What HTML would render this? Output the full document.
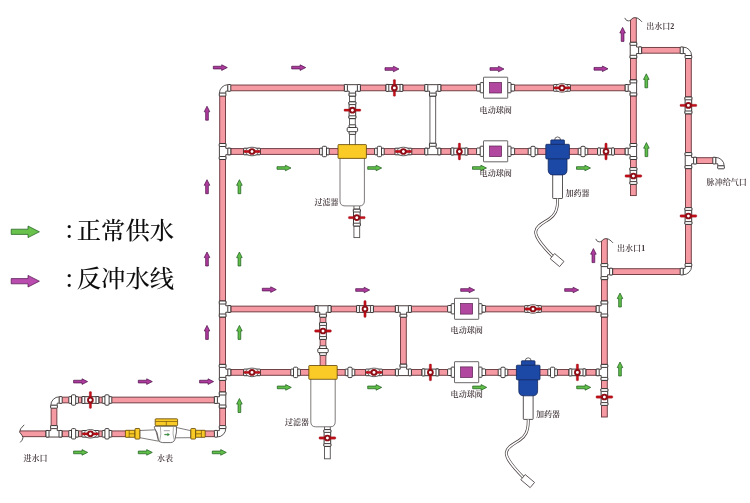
<!DOCTYPE html>
<html lang="zh-CN">
<head>
<meta charset="utf-8">
<title>水处理系统流程图</title>
<style>
html,body{margin:0;padding:0;background:#fff;}
body{width:750px;height:503px;overflow:hidden;}
svg{display:block;}
.lb{font-family:"Liberation Serif","Noto Serif CJK SC",serif;font-weight:600;fill:#43363a;}
.lg{font-family:"Liberation Serif","Noto Serif CJK SC",serif;font-size:24.4px;font-weight:500;fill:#111;}
</style>
</head>
<body>
<svg width="750" height="503" viewBox="0 0 750 503">
<defs><filter id="soft" x="0" y="0" width="750" height="503" filterUnits="userSpaceOnUse"><feGaussianBlur stdDeviation="0.35"/></filter></defs>
<g filter="url(#soft)">
<rect width="750" height="503" fill="#fff"/>
<rect x="16" y="430.93" width="112" height="5.75" fill="#F59AA3" stroke="#643338" stroke-width="0.9"/>
<rect x="202" y="430.93" width="20.6" height="5.75" fill="#F59AA3" stroke="#643338" stroke-width="0.9"/>
<rect x="54" y="397.12" width="168.6" height="5.75" fill="#F59AA3" stroke="#643338" stroke-width="0.9"/>
<rect x="51.12" y="400" width="5.75" height="33.8" fill="#F59AA3" stroke="#643338" stroke-width="0.9"/>
<rect x="219.72" y="87.9" width="5.75" height="345.9" fill="#F59AA3" stroke="#643338" stroke-width="0.9"/>
<rect x="222.6" y="85.03" width="410.8" height="5.75" fill="#F59AA3" stroke="#643338" stroke-width="0.9"/>
<rect x="222.6" y="148.62" width="410.8" height="5.75" fill="#F59AA3" stroke="#643338" stroke-width="0.9"/>
<rect x="222.6" y="306.12" width="381.8" height="5.75" fill="#F59AA3" stroke="#643338" stroke-width="0.9"/>
<rect x="222.6" y="369.52" width="381.8" height="5.75" fill="#F59AA3" stroke="#643338" stroke-width="0.9"/>
<rect x="630.52" y="15" width="5.75" height="180.6" fill="#F59AA3" stroke="#643338" stroke-width="0.9"/>
<rect x="601.52" y="236" width="5.75" height="181" fill="#F59AA3" stroke="#643338" stroke-width="0.9"/>
<rect x="633.4" y="47.42" width="55" height="5.75" fill="#F59AA3" stroke="#643338" stroke-width="0.9"/>
<rect x="685.52" y="50.3" width="5.75" height="221.3" fill="#F59AA3" stroke="#643338" stroke-width="0.9"/>
<rect x="604.4" y="268.73" width="84" height="5.75" fill="#F59AA3" stroke="#643338" stroke-width="0.9"/>
<rect x="688.4" y="157.72" width="30.6" height="5.75" fill="#F59AA3" stroke="#643338" stroke-width="0.9"/>
<rect x="349.52" y="87.9" width="5.75" height="58.1" fill="#fff" stroke="#555050" stroke-width="0.9"/>
<rect x="429.93" y="87.9" width="5.75" height="63.6" fill="#fff" stroke="#555050" stroke-width="0.9"/>
<rect x="320.12" y="309" width="5.75" height="58" fill="#F59AA3" stroke="#643338" stroke-width="0.9"/>
<rect x="400.52" y="309" width="5.75" height="63.4" fill="#F59AA3" stroke="#643338" stroke-width="0.9"/>
<rect x="353.93" y="205" width="5.75" height="32.6" fill="#fff" stroke="#555050" stroke-width="0.9"/>
<rect x="324.52" y="426" width="5.75" height="32.8" fill="#fff" stroke="#555050" stroke-width="0.9"/>
<path d="M24.2 424.8 Q19.4 429 19.6 432.2 Q22.6 435.4 23 437.6 Q22.6 440.4 20.2 442.4 H14 V424.8 Z" fill="#fff"/>
<path d="M24.2 424.8 Q19.4 429 19.6 432.2 Q22.6 435.4 23 437.6 Q22.6 440.4 20.2 442.4" fill="none" stroke="#2e2828" stroke-width="0.8"/>
<g transform="translate(633.4 18.3)">
<path d="M-8.7 -0.4 Q-7.2 2.8 -5.1 2.6 Q-3.6 2.5 -2.7 1.7 Q-0.5 -0.9 1.5 -0.7 Q4 -0.6 5.6 0.8 Q7.4 2.2 8.6 3.6 V-6 H-8.7 Z" fill="#fff"/>
<path d="M-8.7 -0.4 Q-7.2 2.8 -5.1 2.6 Q-3.6 2.5 -2.7 1.7 Q-0.5 -0.9 1.5 -0.7 Q4 -0.6 5.6 0.8 Q7.4 2.2 8.6 3.6" fill="none" stroke="#2e2828" stroke-width="0.8"/>
</g>
<g transform="translate(604.4 239.3)">
<path d="M-8.7 -0.4 Q-7.2 2.8 -5.1 2.6 Q-3.6 2.5 -2.7 1.7 Q-0.5 -0.9 1.5 -0.7 Q4 -0.6 5.6 0.8 Q7.4 2.2 8.6 3.6 V-6 H-8.7 Z" fill="#fff"/>
<path d="M-8.7 -0.4 Q-7.2 2.8 -5.1 2.6 Q-3.6 2.5 -2.7 1.7 Q-0.5 -0.9 1.5 -0.7 Q4 -0.6 5.6 0.8 Q7.4 2.2 8.6 3.6" fill="none" stroke="#2e2828" stroke-width="0.8"/>
</g>
<g transform="translate(54 400) rotate(0)">
<rect x="-4.4" y="-4.4" width="9.8" height="9.8" fill="#fff"/>
<path d="M5.4 -3.2 A8.6 8.6 0 0 0 -3.2 5.4 H3.2 V3.2 H5.4 Z" fill="#fff" stroke="#2e2828" stroke-width="0.8"/>
<rect x="5.2" y="-3.35" width="3" height="6.7" fill="#fff" stroke="#2e2828" stroke-width="0.9" rx="0.8"/>
<rect x="-3.35" y="5.2" width="6.7" height="3" fill="#fff" stroke="#2e2828" stroke-width="0.9" rx="0.8"/>
</g>
<g transform="translate(54 433.8) rotate(0)">
<path d="M-8 -3.2 H-3.2 V-8.2 H3.2 V-3.2 H8 V3.2 H-8 Z" fill="#fff" stroke="#2e2828" stroke-width="0.8"/>
<rect x="-8" y="-3.35" width="3" height="6.7" fill="#fff" stroke="#2e2828" stroke-width="0.9" rx="0.8"/>
<rect x="5" y="-3.35" width="3" height="6.7" fill="#fff" stroke="#2e2828" stroke-width="0.9" rx="0.8"/>
<rect x="-3.35" y="-8.2" width="6.7" height="3" fill="#fff" stroke="#2e2828" stroke-width="0.9" rx="0.8"/>
</g>
<g transform="translate(73.6 400)">
<rect x="-4.8" y="-3.3" width="9.6" height="6.6" fill="#fff" stroke="#2e2828" stroke-width="0.9" rx="0.6"/>
<rect x="-2.1" y="-5.2" width="4.2" height="10.4" fill="#fff" stroke="#2e2828" stroke-width="0.9" rx="1.1"/>
</g>
<g transform="translate(107 400)">
<rect x="-4.8" y="-3.3" width="9.6" height="6.6" fill="#fff" stroke="#2e2828" stroke-width="0.9" rx="0.6"/>
<rect x="-2.1" y="-5.2" width="4.2" height="10.4" fill="#fff" stroke="#2e2828" stroke-width="0.9" rx="1.1"/>
</g>
<g transform="translate(73.6 433.8)">
<rect x="-4.8" y="-3.3" width="9.6" height="6.6" fill="#fff" stroke="#2e2828" stroke-width="0.9" rx="0.6"/>
<rect x="-2.1" y="-5.2" width="4.2" height="10.4" fill="#fff" stroke="#2e2828" stroke-width="0.9" rx="1.1"/>
</g>
<g transform="translate(107 433.8)">
<rect x="-4.8" y="-3.3" width="9.6" height="6.6" fill="#fff" stroke="#2e2828" stroke-width="0.9" rx="0.6"/>
<rect x="-2.1" y="-5.2" width="4.2" height="10.4" fill="#fff" stroke="#2e2828" stroke-width="0.9" rx="1.1"/>
</g>
<g transform="translate(90.4 400)">
<rect x="-8.4" y="-3.3" width="16.8" height="6.6" fill="#fff" stroke="#2e2828" stroke-width="0.9" rx="0.6"/>
<rect x="-8.4" y="-3.5" width="2.8" height="7" fill="#fff" stroke="#2e2828" stroke-width="0.9" rx="0.6"/>
<rect x="5.6" y="-3.5" width="2.8" height="7" fill="#fff" stroke="#2e2828" stroke-width="0.9" rx="0.6"/>
<rect x="-1.15" y="-8.4" width="2.3" height="16.8" rx="0.8" fill="#C60F1B" stroke="#7d0a10" stroke-width="0.3"/>
<circle cx="0" cy="0" r="2.4" fill="#fff" stroke="#8f0b14" stroke-width="1.9"/>
</g>
<g transform="translate(90.4 433.8)">
<rect x="-8.4" y="-3.3" width="16.8" height="6.6" fill="#fff" stroke="#2e2828" stroke-width="0.9" rx="0.6"/>
<ellipse cx="0" cy="0" rx="6.6" ry="4.3" fill="#f4f4f4" stroke="#2e2828" stroke-width="0.7"/>
<rect x="-8.2" y="-1.15" width="16.4" height="2.3" rx="0.8" fill="#C60F1B" stroke="#7d0a10" stroke-width="0.3"/>
<circle cx="0" cy="0" r="2.4" fill="#fff" stroke="#8f0b14" stroke-width="1.9"/>
</g>
<g transform="translate(222.6 400) rotate(270)">
<path d="M-8 -3.2 H-3.2 V-8.2 H3.2 V-3.2 H8 V3.2 H-8 Z" fill="#fff" stroke="#2e2828" stroke-width="0.8"/>
<rect x="-8" y="-3.35" width="3" height="6.7" fill="#fff" stroke="#2e2828" stroke-width="0.9" rx="0.8"/>
<rect x="5" y="-3.35" width="3" height="6.7" fill="#fff" stroke="#2e2828" stroke-width="0.9" rx="0.8"/>
<rect x="-3.35" y="-8.2" width="6.7" height="3" fill="#fff" stroke="#2e2828" stroke-width="0.9" rx="0.8"/>
</g>
<g transform="translate(222.6 433.8) rotate(180)">
<rect x="-4.4" y="-4.4" width="9.8" height="9.8" fill="#fff"/>
<path d="M5.4 -3.2 A8.6 8.6 0 0 0 -3.2 5.4 H3.2 V3.2 H5.4 Z" fill="#fff" stroke="#2e2828" stroke-width="0.8"/>
<rect x="5.2" y="-3.35" width="3" height="6.7" fill="#fff" stroke="#2e2828" stroke-width="0.9" rx="0.8"/>
<rect x="-3.35" y="5.2" width="6.7" height="3" fill="#fff" stroke="#2e2828" stroke-width="0.9" rx="0.8"/>
</g>
<path d="M139.8 430.5 L155.6 429.8 L158.6 441.2 L139.8 437.7 Z" fill="#fff" stroke="#4a4444" stroke-width="0.7"/>
<path d="M190.8 430.7 L176.4 427.5 L175.2 437.8 L190.8 437.7 Z" fill="#fff" stroke="#4a4444" stroke-width="0.7"/>
<path d="M154.4 427.9 Q153.6 426.2 156 426.2 H176.4 Q177 432 175.4 437.4 Q174.6 442.6 170.6 442.6 H162.6 Q158.8 442.6 158.4 439.4 Q157.8 432 154.4 427.9 Z" fill="#fff" stroke="#4a4444" stroke-width="0.8"/>
<path d="M160.4 427 Q161.6 434 159.8 440.6 M173.4 427 Q172.4 434 174 439.6" fill="none" stroke="#777" stroke-width="0.6"/>
<rect x="163.8" y="430.2" width="6" height="1" fill="#a8a0a8"/>
<path d="M164.6 434.2 h3 v-0.9 l2 1.3 l-2 1.3 v-0.9 h-3 z" fill="#2f9a3c" stroke="#1b5a1b" stroke-width="0.3"/>
<rect x="155.2" y="418.8" width="22.4" height="6.9" fill="#FACA25" stroke="#5e4208" stroke-width="0.8" rx="0.8"/>
<path d="M155.6 421.5 H177.2 M166.3 421.5 V425.6" fill="none" stroke="#5e4208" stroke-width="0.6"/>
<g transform="translate(132.6 433.8)">
<rect x="-7.2" y="-3.5" width="9.6" height="7" fill="#FACA25" stroke="#5e4208" stroke-width="0.8" rx="0.5"/>
<path d="M-3.4 -3.5 V3.5 M-3.4 0 H2.4" fill="none" stroke="#5e4208" stroke-width="0.6"/>
<rect x="2.4" y="-5.3" width="4.8" height="10.6" fill="#FACA25" stroke="#5e4208" stroke-width="0.8" rx="0.7"/>
</g>
<g transform="translate(198 433.8) scale(-1 1)">
<rect x="-7.2" y="-3.5" width="9.6" height="7" fill="#FACA25" stroke="#5e4208" stroke-width="0.8" rx="0.5"/>
<path d="M-3.4 -3.5 V3.5 M-3.4 0 H2.4" fill="none" stroke="#5e4208" stroke-width="0.6"/>
<rect x="2.4" y="-5.3" width="4.8" height="10.6" fill="#FACA25" stroke="#5e4208" stroke-width="0.8" rx="0.7"/>
</g>
<g transform="translate(222.6 87.9) rotate(0)">
<rect x="-4.4" y="-4.4" width="9.8" height="9.8" fill="#fff"/>
<path d="M5.4 -3.2 A8.6 8.6 0 0 0 -3.2 5.4 H3.2 V3.2 H5.4 Z" fill="#fff" stroke="#2e2828" stroke-width="0.8"/>
<rect x="5.2" y="-3.35" width="3" height="6.7" fill="#fff" stroke="#2e2828" stroke-width="0.9" rx="0.8"/>
<rect x="-3.35" y="5.2" width="6.7" height="3" fill="#fff" stroke="#2e2828" stroke-width="0.9" rx="0.8"/>
</g>
<g transform="translate(222.6 151.5) rotate(90)">
<path d="M-8 -3.2 H-3.2 V-8.2 H3.2 V-3.2 H8 V3.2 H-8 Z" fill="#fff" stroke="#2e2828" stroke-width="0.8"/>
<rect x="-8" y="-3.35" width="3" height="6.7" fill="#fff" stroke="#2e2828" stroke-width="0.9" rx="0.8"/>
<rect x="5" y="-3.35" width="3" height="6.7" fill="#fff" stroke="#2e2828" stroke-width="0.9" rx="0.8"/>
<rect x="-3.35" y="-8.2" width="6.7" height="3" fill="#fff" stroke="#2e2828" stroke-width="0.9" rx="0.8"/>
</g>
<g transform="translate(222.6 309) rotate(90)">
<path d="M-8 -3.2 H-3.2 V-8.2 H3.2 V-3.2 H8 V3.2 H-8 Z" fill="#fff" stroke="#2e2828" stroke-width="0.8"/>
<rect x="-8" y="-3.35" width="3" height="6.7" fill="#fff" stroke="#2e2828" stroke-width="0.9" rx="0.8"/>
<rect x="5" y="-3.35" width="3" height="6.7" fill="#fff" stroke="#2e2828" stroke-width="0.9" rx="0.8"/>
<rect x="-3.35" y="-8.2" width="6.7" height="3" fill="#fff" stroke="#2e2828" stroke-width="0.9" rx="0.8"/>
</g>
<g transform="translate(222.6 372.4) rotate(90)">
<path d="M-8 -3.2 H-3.2 V-8.2 H3.2 V-3.2 H8 V3.2 H-8 Z" fill="#fff" stroke="#2e2828" stroke-width="0.8"/>
<rect x="-8" y="-3.35" width="3" height="6.7" fill="#fff" stroke="#2e2828" stroke-width="0.9" rx="0.8"/>
<rect x="5" y="-3.35" width="3" height="6.7" fill="#fff" stroke="#2e2828" stroke-width="0.9" rx="0.8"/>
<rect x="-3.35" y="-8.2" width="6.7" height="3" fill="#fff" stroke="#2e2828" stroke-width="0.9" rx="0.8"/>
</g>
<g transform="translate(352.4 87.9) rotate(180)">
<path d="M-8 -3.2 H-3.2 V-8.2 H3.2 V-3.2 H8 V3.2 H-8 Z" fill="#fff" stroke="#2e2828" stroke-width="0.8"/>
<rect x="-8" y="-3.35" width="3" height="6.7" fill="#fff" stroke="#2e2828" stroke-width="0.9" rx="0.8"/>
<rect x="5" y="-3.35" width="3" height="6.7" fill="#fff" stroke="#2e2828" stroke-width="0.9" rx="0.8"/>
<rect x="-3.35" y="-8.2" width="6.7" height="3" fill="#fff" stroke="#2e2828" stroke-width="0.9" rx="0.8"/>
</g>
<g transform="translate(352.4 110.2) rotate(90)">
<rect x="-8.4" y="-3.3" width="16.8" height="6.6" fill="#fff" stroke="#2e2828" stroke-width="0.9" rx="0.6"/>
<rect x="-8.4" y="-3.5" width="2.8" height="7" fill="#fff" stroke="#2e2828" stroke-width="0.9" rx="0.6"/>
<rect x="5.6" y="-3.5" width="2.8" height="7" fill="#fff" stroke="#2e2828" stroke-width="0.9" rx="0.6"/>
<rect x="-1.15" y="-8.4" width="2.3" height="16.8" rx="0.8" fill="#C60F1B" stroke="#7d0a10" stroke-width="0.3"/>
<circle cx="0" cy="0" r="2.4" fill="#fff" stroke="#8f0b14" stroke-width="1.9"/>
</g>
<g transform="translate(352.4 129.6) rotate(90)">
<rect x="-4.8" y="-3.3" width="9.6" height="6.6" fill="#fff" stroke="#2e2828" stroke-width="0.9" rx="0.6"/>
<rect x="-2.1" y="-5.2" width="4.2" height="10.4" fill="#fff" stroke="#2e2828" stroke-width="0.9" rx="1.1"/>
</g>
<g transform="translate(394.4 87.9)">
<rect x="-8.4" y="-3.3" width="16.8" height="6.6" fill="#fff" stroke="#2e2828" stroke-width="0.9" rx="0.6"/>
<rect x="-8.4" y="-3.5" width="2.8" height="7" fill="#fff" stroke="#2e2828" stroke-width="0.9" rx="0.6"/>
<rect x="5.6" y="-3.5" width="2.8" height="7" fill="#fff" stroke="#2e2828" stroke-width="0.9" rx="0.6"/>
<rect x="-1.15" y="-8.4" width="2.3" height="16.8" rx="0.8" fill="#C60F1B" stroke="#7d0a10" stroke-width="0.3"/>
<circle cx="0" cy="0" r="2.4" fill="#fff" stroke="#8f0b14" stroke-width="1.9"/>
</g>
<g transform="translate(432.8 87.9) rotate(180)">
<path d="M-8 -3.2 H-3.2 V-8.2 H3.2 V-3.2 H8 V3.2 H-8 Z" fill="#fff" stroke="#2e2828" stroke-width="0.8"/>
<rect x="-8" y="-3.35" width="3" height="6.7" fill="#fff" stroke="#2e2828" stroke-width="0.9" rx="0.8"/>
<rect x="5" y="-3.35" width="3" height="6.7" fill="#fff" stroke="#2e2828" stroke-width="0.9" rx="0.8"/>
<rect x="-3.35" y="-8.2" width="6.7" height="3" fill="#fff" stroke="#2e2828" stroke-width="0.9" rx="0.8"/>
</g>
<rect x="476.6" y="84.4" width="5" height="6.6" fill="#fff" stroke="#2e2828" stroke-width="0.9" rx="0.8"/>
<rect x="509.6" y="84.4" width="5" height="6.6" fill="#fff" stroke="#2e2828" stroke-width="0.9" rx="0.8"/>
<rect x="480.2" y="82.6" width="3.4" height="10.2" fill="#fff" stroke="#2e2828" stroke-width="0.9" rx="0.6"/>
<rect x="507.6" y="82.6" width="3.4" height="10.2" fill="#fff" stroke="#2e2828" stroke-width="0.9" rx="0.6"/>
<rect x="483.5" y="77.2" width="24.2" height="21" fill="#fff" stroke="#444040" stroke-width="0.8" rx="0.4"/>
<rect x="489.6" y="82.4" width="12" height="10.6" fill="#B2479F" stroke="#5a2050" stroke-width="0.7"/>
<g transform="translate(562 87.9)">
<rect x="-8.4" y="-3.3" width="16.8" height="6.6" fill="#fff" stroke="#2e2828" stroke-width="0.9" rx="0.6"/>
<ellipse cx="0" cy="0" rx="6.6" ry="4.3" fill="#f4f4f4" stroke="#2e2828" stroke-width="0.7"/>
<rect x="-8.2" y="-1.15" width="16.4" height="2.3" rx="0.8" fill="#C60F1B" stroke="#7d0a10" stroke-width="0.3"/>
<circle cx="0" cy="0" r="2.4" fill="#fff" stroke="#8f0b14" stroke-width="1.9"/>
</g>
<g transform="translate(633.4 87.9) rotate(270)">
<path d="M-8 -3.2 H-3.2 V-8.2 H3.2 V-3.2 H8 V3.2 H-8 Z" fill="#fff" stroke="#2e2828" stroke-width="0.8"/>
<rect x="-8" y="-3.35" width="3" height="6.7" fill="#fff" stroke="#2e2828" stroke-width="0.9" rx="0.8"/>
<rect x="5" y="-3.35" width="3" height="6.7" fill="#fff" stroke="#2e2828" stroke-width="0.9" rx="0.8"/>
<rect x="-3.35" y="-8.2" width="6.7" height="3" fill="#fff" stroke="#2e2828" stroke-width="0.9" rx="0.8"/>
</g>
<g transform="translate(252 151.5)">
<rect x="-8.4" y="-3.3" width="16.8" height="6.6" fill="#fff" stroke="#2e2828" stroke-width="0.9" rx="0.6"/>
<ellipse cx="0" cy="0" rx="6.6" ry="4.3" fill="#f4f4f4" stroke="#2e2828" stroke-width="0.7"/>
<rect x="-8.2" y="-1.15" width="16.4" height="2.3" rx="0.8" fill="#C60F1B" stroke="#7d0a10" stroke-width="0.3"/>
<circle cx="0" cy="0" r="2.4" fill="#fff" stroke="#8f0b14" stroke-width="1.9"/>
</g>
<g transform="translate(324.4 151.5)">
<rect x="-4.8" y="-3.3" width="9.6" height="6.6" fill="#fff" stroke="#2e2828" stroke-width="0.9" rx="0.6"/>
<rect x="-2.1" y="-5.2" width="4.2" height="10.4" fill="#fff" stroke="#2e2828" stroke-width="0.9" rx="1.1"/>
</g>
<path d="M340 157.5 V200.9 Q340 205.9 345 205.9 H359.4 Q364.4 205.9 364.4 200.9 V157.5 Z" fill="#fff" stroke="#5e5858" stroke-width="0.8"/>
<rect x="338" y="144.6" width="28.4" height="13.8" fill="#FACA25" stroke="#5e4208" stroke-width="0.8" rx="0.6"/>
<g transform="translate(356.8 217.6) rotate(90)">
<rect x="-8.4" y="-3.3" width="16.8" height="6.6" fill="#fff" stroke="#2e2828" stroke-width="0.9" rx="0.6"/>
<rect x="-8.4" y="-3.5" width="2.8" height="7" fill="#fff" stroke="#2e2828" stroke-width="0.9" rx="0.6"/>
<rect x="5.6" y="-3.5" width="2.8" height="7" fill="#fff" stroke="#2e2828" stroke-width="0.9" rx="0.6"/>
<rect x="-1.15" y="-8.4" width="2.3" height="16.8" rx="0.8" fill="#C60F1B" stroke="#7d0a10" stroke-width="0.3"/>
<circle cx="0" cy="0" r="2.4" fill="#fff" stroke="#8f0b14" stroke-width="1.9"/>
</g>
<g transform="translate(379.4 151.5)">
<rect x="-4.8" y="-3.3" width="9.6" height="6.6" fill="#fff" stroke="#2e2828" stroke-width="0.9" rx="0.6"/>
<rect x="-2.1" y="-5.2" width="4.2" height="10.4" fill="#fff" stroke="#2e2828" stroke-width="0.9" rx="1.1"/>
</g>
<g transform="translate(403.4 151.5)">
<rect x="-8.4" y="-3.3" width="16.8" height="6.6" fill="#fff" stroke="#2e2828" stroke-width="0.9" rx="0.6"/>
<ellipse cx="0" cy="0" rx="6.6" ry="4.3" fill="#f4f4f4" stroke="#2e2828" stroke-width="0.7"/>
<rect x="-8.2" y="-1.15" width="16.4" height="2.3" rx="0.8" fill="#C60F1B" stroke="#7d0a10" stroke-width="0.3"/>
<circle cx="0" cy="0" r="2.4" fill="#fff" stroke="#8f0b14" stroke-width="1.9"/>
</g>
<g transform="translate(432.8 151.5) rotate(0)">
<path d="M-8 -3.2 H-3.2 V-8.2 H3.2 V-3.2 H8 V3.2 H-8 Z" fill="#fff" stroke="#2e2828" stroke-width="0.8"/>
<rect x="-8" y="-3.35" width="3" height="6.7" fill="#fff" stroke="#2e2828" stroke-width="0.9" rx="0.8"/>
<rect x="5" y="-3.35" width="3" height="6.7" fill="#fff" stroke="#2e2828" stroke-width="0.9" rx="0.8"/>
<rect x="-3.35" y="-8.2" width="6.7" height="3" fill="#fff" stroke="#2e2828" stroke-width="0.9" rx="0.8"/>
</g>
<g transform="translate(459.4 151.5)">
<rect x="-8.4" y="-3.3" width="16.8" height="6.6" fill="#fff" stroke="#2e2828" stroke-width="0.9" rx="0.6"/>
<rect x="-8.4" y="-3.5" width="2.8" height="7" fill="#fff" stroke="#2e2828" stroke-width="0.9" rx="0.6"/>
<rect x="5.6" y="-3.5" width="2.8" height="7" fill="#fff" stroke="#2e2828" stroke-width="0.9" rx="0.6"/>
<rect x="-1.15" y="-8.4" width="2.3" height="16.8" rx="0.8" fill="#C60F1B" stroke="#7d0a10" stroke-width="0.3"/>
<circle cx="0" cy="0" r="2.4" fill="#fff" stroke="#8f0b14" stroke-width="1.9"/>
</g>
<rect x="476.6" y="148" width="5" height="6.6" fill="#fff" stroke="#2e2828" stroke-width="0.9" rx="0.8"/>
<rect x="509.6" y="148" width="5" height="6.6" fill="#fff" stroke="#2e2828" stroke-width="0.9" rx="0.8"/>
<rect x="480.2" y="146.2" width="3.4" height="10.2" fill="#fff" stroke="#2e2828" stroke-width="0.9" rx="0.6"/>
<rect x="507.6" y="146.2" width="3.4" height="10.2" fill="#fff" stroke="#2e2828" stroke-width="0.9" rx="0.6"/>
<rect x="483.5" y="140.8" width="24.2" height="21" fill="#fff" stroke="#444040" stroke-width="0.8" rx="0.4"/>
<rect x="489.6" y="146" width="12" height="10.6" fill="#B2479F" stroke="#5a2050" stroke-width="0.7"/>
<g transform="translate(533 151.5)">
<rect x="-4.8" y="-3.3" width="9.6" height="6.6" fill="#fff" stroke="#2e2828" stroke-width="0.9" rx="0.6"/>
<rect x="-2.1" y="-5.2" width="4.2" height="10.4" fill="#fff" stroke="#2e2828" stroke-width="0.9" rx="1.1"/>
</g>
<path d="M554.6 140.3 a3 3.4 0 0 1 6 0 Z" fill="#fff" stroke="#2e2828" stroke-width="0.7"/>
<rect x="552.7" y="173.5" width="9.8" height="25" fill="#fff" stroke="#2e2828" stroke-width="0.8" rx="0.6"/>
<path d="M548.2 157.5 V169.9 Q548.2 174.9 553.2 174.9 H562 Q567 174.9 567 169.9 V157.5 Z" fill="#1E49A6" stroke="#12265c" stroke-width="0.8"/>
<rect x="550.8" y="139.9" width="13.6" height="5" fill="#1E49A6" stroke="#12265c" stroke-width="0.8" rx="0.6"/>
<rect x="545.8" y="144.3" width="23.6" height="14.6" fill="#1E49A6" stroke="#12265c" stroke-width="0.8" rx="0.8"/>
<g transform="translate(583 151.5)">
<rect x="-4.8" y="-3.3" width="9.6" height="6.6" fill="#fff" stroke="#2e2828" stroke-width="0.9" rx="0.6"/>
<rect x="-2.1" y="-5.2" width="4.2" height="10.4" fill="#fff" stroke="#2e2828" stroke-width="0.9" rx="1.1"/>
</g>
<g transform="translate(606 151.5)">
<rect x="-8.4" y="-3.3" width="16.8" height="6.6" fill="#fff" stroke="#2e2828" stroke-width="0.9" rx="0.6"/>
<rect x="-8.4" y="-3.5" width="2.8" height="7" fill="#fff" stroke="#2e2828" stroke-width="0.9" rx="0.6"/>
<rect x="5.6" y="-3.5" width="2.8" height="7" fill="#fff" stroke="#2e2828" stroke-width="0.9" rx="0.6"/>
<rect x="-1.15" y="-8.4" width="2.3" height="16.8" rx="0.8" fill="#C60F1B" stroke="#7d0a10" stroke-width="0.3"/>
<circle cx="0" cy="0" r="2.4" fill="#fff" stroke="#8f0b14" stroke-width="1.9"/>
</g>
<g transform="translate(633.4 151.5) rotate(270)">
<path d="M-8 -3.2 H-3.2 V-8.2 H3.2 V-3.2 H8 V3.2 H-8 Z" fill="#fff" stroke="#2e2828" stroke-width="0.8"/>
<rect x="-8" y="-3.35" width="3" height="6.7" fill="#fff" stroke="#2e2828" stroke-width="0.9" rx="0.8"/>
<rect x="5" y="-3.35" width="3" height="6.7" fill="#fff" stroke="#2e2828" stroke-width="0.9" rx="0.8"/>
<rect x="-3.35" y="-8.2" width="6.7" height="3" fill="#fff" stroke="#2e2828" stroke-width="0.9" rx="0.8"/>
</g>
<g transform="translate(633.4 176) rotate(90)">
<rect x="-8.4" y="-3.3" width="16.8" height="6.6" fill="#fff" stroke="#2e2828" stroke-width="0.9" rx="0.6"/>
<rect x="-8.4" y="-3.5" width="2.8" height="7" fill="#fff" stroke="#2e2828" stroke-width="0.9" rx="0.6"/>
<rect x="5.6" y="-3.5" width="2.8" height="7" fill="#fff" stroke="#2e2828" stroke-width="0.9" rx="0.6"/>
<rect x="-1.15" y="-8.4" width="2.3" height="16.8" rx="0.8" fill="#C60F1B" stroke="#7d0a10" stroke-width="0.3"/>
<circle cx="0" cy="0" r="2.4" fill="#fff" stroke="#8f0b14" stroke-width="1.9"/>
</g>
<path d="M557.6 198.6 C558 211.2 554 215.7 549.2 219 544 222.6 536 225.8 535.7 231.9 535.5 237.2 541 244.2 552.6 256.3" fill="none" stroke="#4a4040" stroke-width="2.9" stroke-linecap="butt"/>
<path d="M557.6 198.6 C558 211.2 554 215.7 549.2 219 544 222.6 536 225.8 535.7 231.9 535.5 237.2 541 244.2 552.6 256.3" fill="none" stroke="#fff" stroke-width="1.5" stroke-linecap="butt"/>
<rect x="-6.1" y="-3.4" width="12.2" height="6.8" fill="#fff" stroke="#4a4040" stroke-width="0.8" transform="translate(557.1 260.1) rotate(40)"/>
<g transform="translate(633.4 50.3) rotate(90)">
<path d="M-8 -3.2 H-3.2 V-8.2 H3.2 V-3.2 H8 V3.2 H-8 Z" fill="#fff" stroke="#2e2828" stroke-width="0.8"/>
<rect x="-8" y="-3.35" width="3" height="6.7" fill="#fff" stroke="#2e2828" stroke-width="0.9" rx="0.8"/>
<rect x="5" y="-3.35" width="3" height="6.7" fill="#fff" stroke="#2e2828" stroke-width="0.9" rx="0.8"/>
<rect x="-3.35" y="-8.2" width="6.7" height="3" fill="#fff" stroke="#2e2828" stroke-width="0.9" rx="0.8"/>
</g>
<g transform="translate(688.4 50.3) rotate(90)">
<rect x="-4.4" y="-4.4" width="9.8" height="9.8" fill="#fff"/>
<path d="M5.4 -3.2 A8.6 8.6 0 0 0 -3.2 5.4 H3.2 V3.2 H5.4 Z" fill="#fff" stroke="#2e2828" stroke-width="0.8"/>
<rect x="5.2" y="-3.35" width="3" height="6.7" fill="#fff" stroke="#2e2828" stroke-width="0.9" rx="0.8"/>
<rect x="-3.35" y="5.2" width="6.7" height="3" fill="#fff" stroke="#2e2828" stroke-width="0.9" rx="0.8"/>
</g>
<g transform="translate(688.4 105.4) rotate(90)">
<rect x="-8.4" y="-3.3" width="16.8" height="6.6" fill="#fff" stroke="#2e2828" stroke-width="0.9" rx="0.6"/>
<rect x="-8.4" y="-3.5" width="2.8" height="7" fill="#fff" stroke="#2e2828" stroke-width="0.9" rx="0.6"/>
<rect x="5.6" y="-3.5" width="2.8" height="7" fill="#fff" stroke="#2e2828" stroke-width="0.9" rx="0.6"/>
<rect x="-1.15" y="-8.4" width="2.3" height="16.8" rx="0.8" fill="#C60F1B" stroke="#7d0a10" stroke-width="0.3"/>
<circle cx="0" cy="0" r="2.4" fill="#fff" stroke="#8f0b14" stroke-width="1.9"/>
</g>
<g transform="translate(688.4 160.6) rotate(90)">
<path d="M-8 -3.2 H-3.2 V-8.2 H3.2 V-3.2 H8 V3.2 H-8 Z" fill="#fff" stroke="#2e2828" stroke-width="0.8"/>
<rect x="-8" y="-3.35" width="3" height="6.7" fill="#fff" stroke="#2e2828" stroke-width="0.9" rx="0.8"/>
<rect x="5" y="-3.35" width="3" height="6.7" fill="#fff" stroke="#2e2828" stroke-width="0.9" rx="0.8"/>
<rect x="-3.35" y="-8.2" width="6.7" height="3" fill="#fff" stroke="#2e2828" stroke-width="0.9" rx="0.8"/>
</g>
<g transform="translate(721 160.6) rotate(90)">
<rect x="-4.4" y="-4.4" width="9.8" height="9.8" fill="#fff"/>
<path d="M5.4 -3.2 A8.6 8.6 0 0 0 -3.2 5.4 H3.2 V3.2 H5.4 Z" fill="#fff" stroke="#2e2828" stroke-width="0.8"/>
<rect x="5.2" y="-3.35" width="3" height="6.7" fill="#fff" stroke="#2e2828" stroke-width="0.9" rx="0.8"/>
<rect x="-3.35" y="5.2" width="6.7" height="3" fill="#fff" stroke="#2e2828" stroke-width="0.9" rx="0.8"/>
</g>
<g transform="translate(688.4 216) rotate(90)">
<rect x="-8.4" y="-3.3" width="16.8" height="6.6" fill="#fff" stroke="#2e2828" stroke-width="0.9" rx="0.6"/>
<rect x="-8.4" y="-3.5" width="2.8" height="7" fill="#fff" stroke="#2e2828" stroke-width="0.9" rx="0.6"/>
<rect x="5.6" y="-3.5" width="2.8" height="7" fill="#fff" stroke="#2e2828" stroke-width="0.9" rx="0.6"/>
<rect x="-1.15" y="-8.4" width="2.3" height="16.8" rx="0.8" fill="#C60F1B" stroke="#7d0a10" stroke-width="0.3"/>
<circle cx="0" cy="0" r="2.4" fill="#fff" stroke="#8f0b14" stroke-width="1.9"/>
</g>
<g transform="translate(688.4 271.6) rotate(180)">
<rect x="-4.4" y="-4.4" width="9.8" height="9.8" fill="#fff"/>
<path d="M5.4 -3.2 A8.6 8.6 0 0 0 -3.2 5.4 H3.2 V3.2 H5.4 Z" fill="#fff" stroke="#2e2828" stroke-width="0.8"/>
<rect x="5.2" y="-3.35" width="3" height="6.7" fill="#fff" stroke="#2e2828" stroke-width="0.9" rx="0.8"/>
<rect x="-3.35" y="5.2" width="6.7" height="3" fill="#fff" stroke="#2e2828" stroke-width="0.9" rx="0.8"/>
</g>
<g transform="translate(604.4 271.6) rotate(90)">
<path d="M-8 -3.2 H-3.2 V-8.2 H3.2 V-3.2 H8 V3.2 H-8 Z" fill="#fff" stroke="#2e2828" stroke-width="0.8"/>
<rect x="-8" y="-3.35" width="3" height="6.7" fill="#fff" stroke="#2e2828" stroke-width="0.9" rx="0.8"/>
<rect x="5" y="-3.35" width="3" height="6.7" fill="#fff" stroke="#2e2828" stroke-width="0.9" rx="0.8"/>
<rect x="-3.35" y="-8.2" width="6.7" height="3" fill="#fff" stroke="#2e2828" stroke-width="0.9" rx="0.8"/>
</g>
<g transform="translate(323 309) rotate(180)">
<path d="M-8 -3.2 H-3.2 V-8.2 H3.2 V-3.2 H8 V3.2 H-8 Z" fill="#fff" stroke="#2e2828" stroke-width="0.8"/>
<rect x="-8" y="-3.35" width="3" height="6.7" fill="#fff" stroke="#2e2828" stroke-width="0.9" rx="0.8"/>
<rect x="5" y="-3.35" width="3" height="6.7" fill="#fff" stroke="#2e2828" stroke-width="0.9" rx="0.8"/>
<rect x="-3.35" y="-8.2" width="6.7" height="3" fill="#fff" stroke="#2e2828" stroke-width="0.9" rx="0.8"/>
</g>
<g transform="translate(323 331) rotate(90)">
<rect x="-8.4" y="-3.3" width="16.8" height="6.6" fill="#fff" stroke="#2e2828" stroke-width="0.9" rx="0.6"/>
<rect x="-8.4" y="-3.5" width="2.8" height="7" fill="#fff" stroke="#2e2828" stroke-width="0.9" rx="0.6"/>
<rect x="5.6" y="-3.5" width="2.8" height="7" fill="#fff" stroke="#2e2828" stroke-width="0.9" rx="0.6"/>
<rect x="-1.15" y="-8.4" width="2.3" height="16.8" rx="0.8" fill="#C60F1B" stroke="#7d0a10" stroke-width="0.3"/>
<circle cx="0" cy="0" r="2.4" fill="#fff" stroke="#8f0b14" stroke-width="1.9"/>
</g>
<g transform="translate(323 350.6) rotate(90)">
<rect x="-4.8" y="-3.3" width="9.6" height="6.6" fill="#fff" stroke="#2e2828" stroke-width="0.9" rx="0.6"/>
<rect x="-2.1" y="-5.2" width="4.2" height="10.4" fill="#fff" stroke="#2e2828" stroke-width="0.9" rx="1.1"/>
</g>
<g transform="translate(365 309)">
<rect x="-8.4" y="-3.3" width="16.8" height="6.6" fill="#fff" stroke="#2e2828" stroke-width="0.9" rx="0.6"/>
<rect x="-8.4" y="-3.5" width="2.8" height="7" fill="#fff" stroke="#2e2828" stroke-width="0.9" rx="0.6"/>
<rect x="5.6" y="-3.5" width="2.8" height="7" fill="#fff" stroke="#2e2828" stroke-width="0.9" rx="0.6"/>
<rect x="-1.15" y="-8.4" width="2.3" height="16.8" rx="0.8" fill="#C60F1B" stroke="#7d0a10" stroke-width="0.3"/>
<circle cx="0" cy="0" r="2.4" fill="#fff" stroke="#8f0b14" stroke-width="1.9"/>
</g>
<g transform="translate(403.4 309) rotate(180)">
<path d="M-8 -3.2 H-3.2 V-8.2 H3.2 V-3.2 H8 V3.2 H-8 Z" fill="#fff" stroke="#2e2828" stroke-width="0.8"/>
<rect x="-8" y="-3.35" width="3" height="6.7" fill="#fff" stroke="#2e2828" stroke-width="0.9" rx="0.8"/>
<rect x="5" y="-3.35" width="3" height="6.7" fill="#fff" stroke="#2e2828" stroke-width="0.9" rx="0.8"/>
<rect x="-3.35" y="-8.2" width="6.7" height="3" fill="#fff" stroke="#2e2828" stroke-width="0.9" rx="0.8"/>
</g>
<rect x="447.6" y="305.5" width="5" height="6.6" fill="#fff" stroke="#2e2828" stroke-width="0.9" rx="0.8"/>
<rect x="480.6" y="305.5" width="5" height="6.6" fill="#fff" stroke="#2e2828" stroke-width="0.9" rx="0.8"/>
<rect x="451.2" y="303.7" width="3.4" height="10.2" fill="#fff" stroke="#2e2828" stroke-width="0.9" rx="0.6"/>
<rect x="478.6" y="303.7" width="3.4" height="10.2" fill="#fff" stroke="#2e2828" stroke-width="0.9" rx="0.6"/>
<rect x="454.5" y="298.3" width="24.2" height="21" fill="#fff" stroke="#444040" stroke-width="0.8" rx="0.4"/>
<rect x="460.6" y="303.5" width="12" height="10.6" fill="#B2479F" stroke="#5a2050" stroke-width="0.7"/>
<g transform="translate(533 309)">
<rect x="-8.4" y="-3.3" width="16.8" height="6.6" fill="#fff" stroke="#2e2828" stroke-width="0.9" rx="0.6"/>
<ellipse cx="0" cy="0" rx="6.6" ry="4.3" fill="#f4f4f4" stroke="#2e2828" stroke-width="0.7"/>
<rect x="-8.2" y="-1.15" width="16.4" height="2.3" rx="0.8" fill="#C60F1B" stroke="#7d0a10" stroke-width="0.3"/>
<circle cx="0" cy="0" r="2.4" fill="#fff" stroke="#8f0b14" stroke-width="1.9"/>
</g>
<g transform="translate(604.4 309) rotate(270)">
<path d="M-8 -3.2 H-3.2 V-8.2 H3.2 V-3.2 H8 V3.2 H-8 Z" fill="#fff" stroke="#2e2828" stroke-width="0.8"/>
<rect x="-8" y="-3.35" width="3" height="6.7" fill="#fff" stroke="#2e2828" stroke-width="0.9" rx="0.8"/>
<rect x="5" y="-3.35" width="3" height="6.7" fill="#fff" stroke="#2e2828" stroke-width="0.9" rx="0.8"/>
<rect x="-3.35" y="-8.2" width="6.7" height="3" fill="#fff" stroke="#2e2828" stroke-width="0.9" rx="0.8"/>
</g>
<g transform="translate(252 372.4)">
<rect x="-8.4" y="-3.3" width="16.8" height="6.6" fill="#fff" stroke="#2e2828" stroke-width="0.9" rx="0.6"/>
<ellipse cx="0" cy="0" rx="6.6" ry="4.3" fill="#f4f4f4" stroke="#2e2828" stroke-width="0.7"/>
<rect x="-8.2" y="-1.15" width="16.4" height="2.3" rx="0.8" fill="#C60F1B" stroke="#7d0a10" stroke-width="0.3"/>
<circle cx="0" cy="0" r="2.4" fill="#fff" stroke="#8f0b14" stroke-width="1.9"/>
</g>
<g transform="translate(295.6 372.4)">
<rect x="-4.8" y="-3.3" width="9.6" height="6.6" fill="#fff" stroke="#2e2828" stroke-width="0.9" rx="0.6"/>
<rect x="-2.1" y="-5.2" width="4.2" height="10.4" fill="#fff" stroke="#2e2828" stroke-width="0.9" rx="1.1"/>
</g>
<path d="M310.8 378.4 V421.8 Q310.8 426.8 315.8 426.8 H330.2 Q335.2 426.8 335.2 421.8 V378.4 Z" fill="#fff" stroke="#5e5858" stroke-width="0.8"/>
<rect x="308.8" y="365.5" width="28.4" height="13.8" fill="#FACA25" stroke="#5e4208" stroke-width="0.8" rx="0.6"/>
<g transform="translate(327.4 438) rotate(90)">
<rect x="-8.4" y="-3.3" width="16.8" height="6.6" fill="#fff" stroke="#2e2828" stroke-width="0.9" rx="0.6"/>
<rect x="-8.4" y="-3.5" width="2.8" height="7" fill="#fff" stroke="#2e2828" stroke-width="0.9" rx="0.6"/>
<rect x="5.6" y="-3.5" width="2.8" height="7" fill="#fff" stroke="#2e2828" stroke-width="0.9" rx="0.6"/>
<rect x="-1.15" y="-8.4" width="2.3" height="16.8" rx="0.8" fill="#C60F1B" stroke="#7d0a10" stroke-width="0.3"/>
<circle cx="0" cy="0" r="2.4" fill="#fff" stroke="#8f0b14" stroke-width="1.9"/>
</g>
<g transform="translate(350 372.4)">
<rect x="-4.8" y="-3.3" width="9.6" height="6.6" fill="#fff" stroke="#2e2828" stroke-width="0.9" rx="0.6"/>
<rect x="-2.1" y="-5.2" width="4.2" height="10.4" fill="#fff" stroke="#2e2828" stroke-width="0.9" rx="1.1"/>
</g>
<g transform="translate(374 372.4)">
<rect x="-8.4" y="-3.3" width="16.8" height="6.6" fill="#fff" stroke="#2e2828" stroke-width="0.9" rx="0.6"/>
<ellipse cx="0" cy="0" rx="6.6" ry="4.3" fill="#f4f4f4" stroke="#2e2828" stroke-width="0.7"/>
<rect x="-8.2" y="-1.15" width="16.4" height="2.3" rx="0.8" fill="#C60F1B" stroke="#7d0a10" stroke-width="0.3"/>
<circle cx="0" cy="0" r="2.4" fill="#fff" stroke="#8f0b14" stroke-width="1.9"/>
</g>
<g transform="translate(403.4 372.4) rotate(0)">
<path d="M-8 -3.2 H-3.2 V-8.2 H3.2 V-3.2 H8 V3.2 H-8 Z" fill="#fff" stroke="#2e2828" stroke-width="0.8"/>
<rect x="-8" y="-3.35" width="3" height="6.7" fill="#fff" stroke="#2e2828" stroke-width="0.9" rx="0.8"/>
<rect x="5" y="-3.35" width="3" height="6.7" fill="#fff" stroke="#2e2828" stroke-width="0.9" rx="0.8"/>
<rect x="-3.35" y="-8.2" width="6.7" height="3" fill="#fff" stroke="#2e2828" stroke-width="0.9" rx="0.8"/>
</g>
<g transform="translate(430.4 372.4)">
<rect x="-8.4" y="-3.3" width="16.8" height="6.6" fill="#fff" stroke="#2e2828" stroke-width="0.9" rx="0.6"/>
<rect x="-8.4" y="-3.5" width="2.8" height="7" fill="#fff" stroke="#2e2828" stroke-width="0.9" rx="0.6"/>
<rect x="5.6" y="-3.5" width="2.8" height="7" fill="#fff" stroke="#2e2828" stroke-width="0.9" rx="0.6"/>
<rect x="-1.15" y="-8.4" width="2.3" height="16.8" rx="0.8" fill="#C60F1B" stroke="#7d0a10" stroke-width="0.3"/>
<circle cx="0" cy="0" r="2.4" fill="#fff" stroke="#8f0b14" stroke-width="1.9"/>
</g>
<rect x="447.6" y="368.9" width="5" height="6.6" fill="#fff" stroke="#2e2828" stroke-width="0.9" rx="0.8"/>
<rect x="480.6" y="368.9" width="5" height="6.6" fill="#fff" stroke="#2e2828" stroke-width="0.9" rx="0.8"/>
<rect x="451.2" y="367.1" width="3.4" height="10.2" fill="#fff" stroke="#2e2828" stroke-width="0.9" rx="0.6"/>
<rect x="478.6" y="367.1" width="3.4" height="10.2" fill="#fff" stroke="#2e2828" stroke-width="0.9" rx="0.6"/>
<rect x="454.5" y="361.7" width="24.2" height="21" fill="#fff" stroke="#444040" stroke-width="0.8" rx="0.4"/>
<rect x="460.6" y="366.9" width="12" height="10.6" fill="#B2479F" stroke="#5a2050" stroke-width="0.7"/>
<g transform="translate(503 372.4)">
<rect x="-4.8" y="-3.3" width="9.6" height="6.6" fill="#fff" stroke="#2e2828" stroke-width="0.9" rx="0.6"/>
<rect x="-2.1" y="-5.2" width="4.2" height="10.4" fill="#fff" stroke="#2e2828" stroke-width="0.9" rx="1.1"/>
</g>
<path d="M525.2 361.2 a3 3.4 0 0 1 6 0 Z" fill="#fff" stroke="#2e2828" stroke-width="0.7"/>
<rect x="523.3" y="394.4" width="9.8" height="25" fill="#fff" stroke="#2e2828" stroke-width="0.8" rx="0.6"/>
<path d="M518.8 378.4 V390.8 Q518.8 395.8 523.8 395.8 H532.6 Q537.6 395.8 537.6 390.8 V378.4 Z" fill="#1E49A6" stroke="#12265c" stroke-width="0.8"/>
<rect x="521.4" y="360.8" width="13.6" height="5" fill="#1E49A6" stroke="#12265c" stroke-width="0.8" rx="0.6"/>
<rect x="516.4" y="365.2" width="23.6" height="14.6" fill="#1E49A6" stroke="#12265c" stroke-width="0.8" rx="0.8"/>
<g transform="translate(552.6 372.4)">
<rect x="-4.8" y="-3.3" width="9.6" height="6.6" fill="#fff" stroke="#2e2828" stroke-width="0.9" rx="0.6"/>
<rect x="-2.1" y="-5.2" width="4.2" height="10.4" fill="#fff" stroke="#2e2828" stroke-width="0.9" rx="1.1"/>
</g>
<g transform="translate(577.4 372.4)">
<rect x="-8.4" y="-3.3" width="16.8" height="6.6" fill="#fff" stroke="#2e2828" stroke-width="0.9" rx="0.6"/>
<rect x="-8.4" y="-3.5" width="2.8" height="7" fill="#fff" stroke="#2e2828" stroke-width="0.9" rx="0.6"/>
<rect x="5.6" y="-3.5" width="2.8" height="7" fill="#fff" stroke="#2e2828" stroke-width="0.9" rx="0.6"/>
<rect x="-1.15" y="-8.4" width="2.3" height="16.8" rx="0.8" fill="#C60F1B" stroke="#7d0a10" stroke-width="0.3"/>
<circle cx="0" cy="0" r="2.4" fill="#fff" stroke="#8f0b14" stroke-width="1.9"/>
</g>
<g transform="translate(604.4 372.4) rotate(270)">
<path d="M-8 -3.2 H-3.2 V-8.2 H3.2 V-3.2 H8 V3.2 H-8 Z" fill="#fff" stroke="#2e2828" stroke-width="0.8"/>
<rect x="-8" y="-3.35" width="3" height="6.7" fill="#fff" stroke="#2e2828" stroke-width="0.9" rx="0.8"/>
<rect x="5" y="-3.35" width="3" height="6.7" fill="#fff" stroke="#2e2828" stroke-width="0.9" rx="0.8"/>
<rect x="-3.35" y="-8.2" width="6.7" height="3" fill="#fff" stroke="#2e2828" stroke-width="0.9" rx="0.8"/>
</g>
<g transform="translate(604.4 397) rotate(90)">
<rect x="-8.4" y="-3.3" width="16.8" height="6.6" fill="#fff" stroke="#2e2828" stroke-width="0.9" rx="0.6"/>
<rect x="-8.4" y="-3.5" width="2.8" height="7" fill="#fff" stroke="#2e2828" stroke-width="0.9" rx="0.6"/>
<rect x="5.6" y="-3.5" width="2.8" height="7" fill="#fff" stroke="#2e2828" stroke-width="0.9" rx="0.6"/>
<rect x="-1.15" y="-8.4" width="2.3" height="16.8" rx="0.8" fill="#C60F1B" stroke="#7d0a10" stroke-width="0.3"/>
<circle cx="0" cy="0" r="2.4" fill="#fff" stroke="#8f0b14" stroke-width="1.9"/>
</g>
<path d="M528.2 419.6 C528.6 432.2 524.6 436.7 519.8 440 514.6 443.6 506.6 446.8 506.3 452.9 506.1 458.2 511.6 465.2 523.2 477.3" fill="none" stroke="#4a4040" stroke-width="2.9" stroke-linecap="butt"/>
<path d="M528.2 419.6 C528.6 432.2 524.6 436.7 519.8 440 514.6 443.6 506.6 446.8 506.3 452.9 506.1 458.2 511.6 465.2 523.2 477.3" fill="none" stroke="#fff" stroke-width="1.5" stroke-linecap="butt"/>
<rect x="-6.1" y="-3.4" width="12.2" height="6.8" fill="#fff" stroke="#4a4040" stroke-width="0.8" transform="translate(527.7 481.1) rotate(40)"/>
<path transform="translate(80.6 381.6) rotate(0)" d="M-7 -1.35 H1.4 V-2.8 L7 0 L1.4 2.8 V1.35 H-7 Z" fill="#AE3B9E" stroke="#4c1048" stroke-width="0.7" stroke-linejoin="miter"/>
<path transform="translate(145.3 381.6) rotate(0)" d="M-7 -1.35 H1.4 V-2.8 L7 0 L1.4 2.8 V1.35 H-7 Z" fill="#AE3B9E" stroke="#4c1048" stroke-width="0.7" stroke-linejoin="miter"/>
<path transform="translate(206.6 381.6) rotate(0)" d="M-7 -1.35 H1.4 V-2.8 L7 0 L1.4 2.8 V1.35 H-7 Z" fill="#AE3B9E" stroke="#4c1048" stroke-width="0.7" stroke-linejoin="miter"/>
<path transform="translate(220.3 67.6) rotate(0)" d="M-7 -1.35 H1.4 V-2.8 L7 0 L1.4 2.8 V1.35 H-7 Z" fill="#AE3B9E" stroke="#4c1048" stroke-width="0.7" stroke-linejoin="miter"/>
<path transform="translate(298.7 67.6) rotate(0)" d="M-7 -1.35 H1.4 V-2.8 L7 0 L1.4 2.8 V1.35 H-7 Z" fill="#AE3B9E" stroke="#4c1048" stroke-width="0.7" stroke-linejoin="miter"/>
<path transform="translate(392 69) rotate(0)" d="M-7 -1.35 H1.4 V-2.8 L7 0 L1.4 2.8 V1.35 H-7 Z" fill="#AE3B9E" stroke="#4c1048" stroke-width="0.7" stroke-linejoin="miter"/>
<path transform="translate(497 69) rotate(0)" d="M-7 -1.35 H1.4 V-2.8 L7 0 L1.4 2.8 V1.35 H-7 Z" fill="#AE3B9E" stroke="#4c1048" stroke-width="0.7" stroke-linejoin="miter"/>
<path transform="translate(601 68.8) rotate(0)" d="M-7 -1.35 H1.4 V-2.8 L7 0 L1.4 2.8 V1.35 H-7 Z" fill="#AE3B9E" stroke="#4c1048" stroke-width="0.7" stroke-linejoin="miter"/>
<path transform="translate(269.3 289.6) rotate(0)" d="M-7 -1.35 H1.4 V-2.8 L7 0 L1.4 2.8 V1.35 H-7 Z" fill="#AE3B9E" stroke="#4c1048" stroke-width="0.7" stroke-linejoin="miter"/>
<path transform="translate(362.7 290) rotate(0)" d="M-7 -1.35 H1.4 V-2.8 L7 0 L1.4 2.8 V1.35 H-7 Z" fill="#AE3B9E" stroke="#4c1048" stroke-width="0.7" stroke-linejoin="miter"/>
<path transform="translate(467.7 290) rotate(0)" d="M-7 -1.35 H1.4 V-2.8 L7 0 L1.4 2.8 V1.35 H-7 Z" fill="#AE3B9E" stroke="#4c1048" stroke-width="0.7" stroke-linejoin="miter"/>
<path transform="translate(571.7 290) rotate(0)" d="M-7 -1.35 H1.4 V-2.8 L7 0 L1.4 2.8 V1.35 H-7 Z" fill="#AE3B9E" stroke="#4c1048" stroke-width="0.7" stroke-linejoin="miter"/>
<path transform="translate(207 113.2) rotate(270)" d="M-7 -1.35 H1.4 V-2.8 L7 0 L1.4 2.8 V1.35 H-7 Z" fill="#AE3B9E" stroke="#4c1048" stroke-width="0.7" stroke-linejoin="miter"/>
<path transform="translate(207 186.7) rotate(270)" d="M-7 -1.35 H1.4 V-2.8 L7 0 L1.4 2.8 V1.35 H-7 Z" fill="#AE3B9E" stroke="#4c1048" stroke-width="0.7" stroke-linejoin="miter"/>
<path transform="translate(207 259) rotate(270)" d="M-7 -1.35 H1.4 V-2.8 L7 0 L1.4 2.8 V1.35 H-7 Z" fill="#AE3B9E" stroke="#4c1048" stroke-width="0.7" stroke-linejoin="miter"/>
<path transform="translate(207 332.4) rotate(270)" d="M-7 -1.35 H1.4 V-2.8 L7 0 L1.4 2.8 V1.35 H-7 Z" fill="#AE3B9E" stroke="#4c1048" stroke-width="0.7" stroke-linejoin="miter"/>
<path transform="translate(622.6 34.4) rotate(270)" d="M-7 -1.35 H1.4 V-2.8 L7 0 L1.4 2.8 V1.35 H-7 Z" fill="#AE3B9E" stroke="#4c1048" stroke-width="0.7" stroke-linejoin="miter"/>
<path transform="translate(593.4 255.6) rotate(270)" d="M-7 -1.35 H1.4 V-2.8 L7 0 L1.4 2.8 V1.35 H-7 Z" fill="#AE3B9E" stroke="#4c1048" stroke-width="0.7" stroke-linejoin="miter"/>
<path transform="translate(80.6 452.4) rotate(0)" d="M-7 -1.35 H1.4 V-2.8 L7 0 L1.4 2.8 V1.35 H-7 Z" fill="#60BE49" stroke="#1b5a1b" stroke-width="0.7" stroke-linejoin="miter"/>
<path transform="translate(145.3 452.4) rotate(0)" d="M-7 -1.35 H1.4 V-2.8 L7 0 L1.4 2.8 V1.35 H-7 Z" fill="#60BE49" stroke="#1b5a1b" stroke-width="0.7" stroke-linejoin="miter"/>
<path transform="translate(219.3 452.4) rotate(0)" d="M-7 -1.35 H1.4 V-2.8 L7 0 L1.4 2.8 V1.35 H-7 Z" fill="#60BE49" stroke="#1b5a1b" stroke-width="0.7" stroke-linejoin="miter"/>
<path transform="translate(284 168) rotate(0)" d="M-7 -1.35 H1.4 V-2.8 L7 0 L1.4 2.8 V1.35 H-7 Z" fill="#60BE49" stroke="#1b5a1b" stroke-width="0.7" stroke-linejoin="miter"/>
<path transform="translate(374.7 168) rotate(0)" d="M-7 -1.35 H1.4 V-2.8 L7 0 L1.4 2.8 V1.35 H-7 Z" fill="#60BE49" stroke="#1b5a1b" stroke-width="0.7" stroke-linejoin="miter"/>
<path transform="translate(479.5 168) rotate(0)" d="M-7 -1.35 H1.4 V-2.8 L7 0 L1.4 2.8 V1.35 H-7 Z" fill="#60BE49" stroke="#1b5a1b" stroke-width="0.7" stroke-linejoin="miter"/>
<path transform="translate(583.5 168) rotate(0)" d="M-7 -1.35 H1.4 V-2.8 L7 0 L1.4 2.8 V1.35 H-7 Z" fill="#60BE49" stroke="#1b5a1b" stroke-width="0.7" stroke-linejoin="miter"/>
<path transform="translate(284.3 387.4) rotate(0)" d="M-7 -1.35 H1.4 V-2.8 L7 0 L1.4 2.8 V1.35 H-7 Z" fill="#60BE49" stroke="#1b5a1b" stroke-width="0.7" stroke-linejoin="miter"/>
<path transform="translate(374.7 387.4) rotate(0)" d="M-7 -1.35 H1.4 V-2.8 L7 0 L1.4 2.8 V1.35 H-7 Z" fill="#60BE49" stroke="#1b5a1b" stroke-width="0.7" stroke-linejoin="miter"/>
<path transform="translate(479.7 387.4) rotate(0)" d="M-7 -1.35 H1.4 V-2.8 L7 0 L1.4 2.8 V1.35 H-7 Z" fill="#60BE49" stroke="#1b5a1b" stroke-width="0.7" stroke-linejoin="miter"/>
<path transform="translate(583.7 387.4) rotate(0)" d="M-7 -1.35 H1.4 V-2.8 L7 0 L1.4 2.8 V1.35 H-7 Z" fill="#60BE49" stroke="#1b5a1b" stroke-width="0.7" stroke-linejoin="miter"/>
<path transform="translate(239.4 186.7) rotate(270)" d="M-7 -1.35 H1.4 V-2.8 L7 0 L1.4 2.8 V1.35 H-7 Z" fill="#60BE49" stroke="#1b5a1b" stroke-width="0.7" stroke-linejoin="miter"/>
<path transform="translate(239.4 259) rotate(270)" d="M-7 -1.35 H1.4 V-2.8 L7 0 L1.4 2.8 V1.35 H-7 Z" fill="#60BE49" stroke="#1b5a1b" stroke-width="0.7" stroke-linejoin="miter"/>
<path transform="translate(239.4 332.4) rotate(270)" d="M-7 -1.35 H1.4 V-2.8 L7 0 L1.4 2.8 V1.35 H-7 Z" fill="#60BE49" stroke="#1b5a1b" stroke-width="0.7" stroke-linejoin="miter"/>
<path transform="translate(239.4 405.5) rotate(270)" d="M-7 -1.35 H1.4 V-2.8 L7 0 L1.4 2.8 V1.35 H-7 Z" fill="#60BE49" stroke="#1b5a1b" stroke-width="0.7" stroke-linejoin="miter"/>
<path transform="translate(646.3 80.8) rotate(270)" d="M-7 -1.35 H1.4 V-2.8 L7 0 L1.4 2.8 V1.35 H-7 Z" fill="#60BE49" stroke="#1b5a1b" stroke-width="0.7" stroke-linejoin="miter"/>
<path transform="translate(646.4 149.6) rotate(270)" d="M-7 -1.35 H1.4 V-2.8 L7 0 L1.4 2.8 V1.35 H-7 Z" fill="#60BE49" stroke="#1b5a1b" stroke-width="0.7" stroke-linejoin="miter"/>
<path transform="translate(620 300) rotate(270)" d="M-7 -1.35 H1.4 V-2.8 L7 0 L1.4 2.8 V1.35 H-7 Z" fill="#60BE49" stroke="#1b5a1b" stroke-width="0.7" stroke-linejoin="miter"/>
<path transform="translate(620 369) rotate(270)" d="M-7 -1.35 H1.4 V-2.8 L7 0 L1.4 2.8 V1.35 H-7 Z" fill="#60BE49" stroke="#1b5a1b" stroke-width="0.7" stroke-linejoin="miter"/>
<path transform="translate(25.3 231.8) rotate(0)" d="M-14.1 -2.6 H2.7 V-5.8 L14.1 0 L2.7 5.8 V2.6 H-14.1 Z" fill="#68C24C" stroke="#1b5a1b" stroke-width="0.7" stroke-linejoin="miter"/>
<path transform="translate(25.3 281.2) rotate(0)" d="M-14.1 -2.6 H2.7 V-5.8 L14.1 0 L2.7 5.8 V2.6 H-14.1 Z" fill="#BA4CAF" stroke="#4c1048" stroke-width="0.7" stroke-linejoin="miter"/>
<text x="23.4" y="461" font-size="8.05" text-anchor="start" class="lb">进水口</text>
<text x="157" y="461" font-size="8.05" text-anchor="start" class="lb">水表</text>
<text x="314.4" y="204.6" font-size="8.05" text-anchor="start" class="lb">过滤器</text>
<text x="285" y="425" font-size="8.05" text-anchor="start" class="lb">过滤器</text>
<text x="479.6" y="112.6" font-size="8.05" text-anchor="start" class="lb">电动球阀</text>
<text x="479.6" y="176" font-size="8.05" text-anchor="start" class="lb">电动球阀</text>
<text x="450.6" y="333" font-size="8.05" text-anchor="start" class="lb">电动球阀</text>
<text x="450.6" y="397" font-size="8.05" text-anchor="start" class="lb">电动球阀</text>
<text x="565.4" y="196.4" font-size="8.05" text-anchor="start" class="lb">加药器</text>
<text x="536" y="417" font-size="8.05" text-anchor="start" class="lb">加药器</text>
<text x="646.2" y="29" font-size="8.05" text-anchor="start" class="lb">出水口2</text>
<text x="617" y="251.4" font-size="8.05" text-anchor="start" class="lb">出水口1</text>
<text x="706.6" y="185" font-size="8.05" text-anchor="start" class="lb">脉冲给气口</text>
<text x="65.4" y="238.3" class="lg" style="font-size:27px;font-weight:400">:</text>
<text x="76.7" y="238.7" class="lg">正常供水</text>
<text x="65.4" y="286.9" class="lg" style="font-size:27px;font-weight:400">:</text>
<text x="76.7" y="287.2" class="lg">反冲水线</text>
</g>
</svg>
</body>
</html>
